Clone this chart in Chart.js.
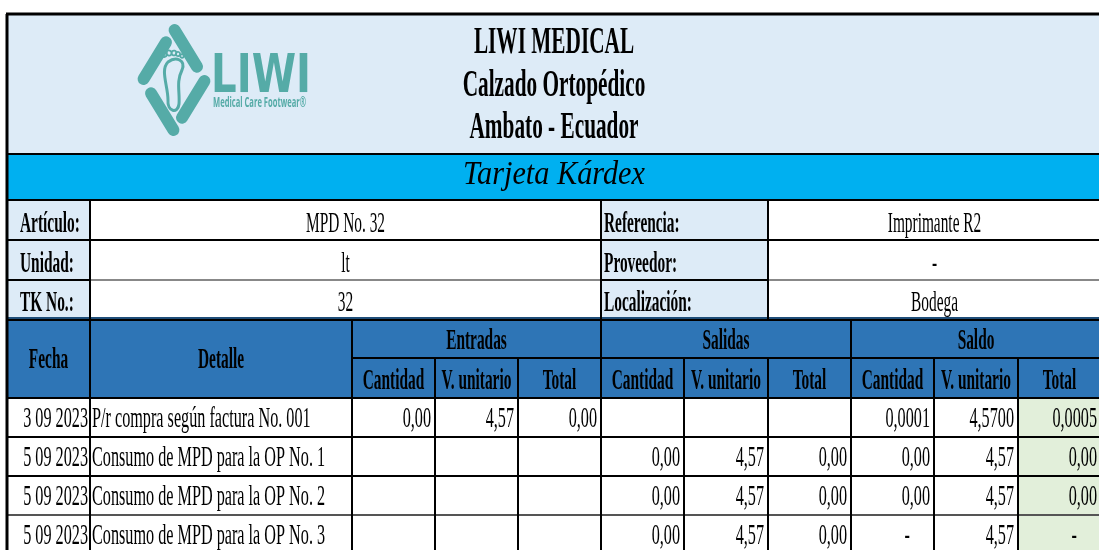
<!DOCTYPE html>
<html>
<head>
<meta charset="utf-8">
<script src="https://cdn.jsdelivr.net/npm/chart.js@4"></script>
<style>
  body { margin: 0; background: #fff; }
  #wrap { width: 1099px; height: 550px; position: relative; }
</style>
</head>
<body>
<div id="wrap"><canvas id="kardex"></canvas></div>
<script>
// datos de la tarjeta
var titulos = ['LIWI MEDICAL', 'Calzado Ortopédico', 'Ambato - Ecuador'];
var tarjeta = 'Tarjeta Kárdex';
var infoLabels = ['Artículo:', 'Unidad:', 'TK No.:'];
var infoValues = ['MPD No. 32', 'lt', '32'];
var infoLabels2 = ['Referencia:', 'Proveedor:', 'Localización:'];
var infoValues2 = ['Imprimante R2', '-', 'Bodega'];
var grupos = ['Entradas', 'Salidas', 'Saldo'];
var subCols = ['Cantidad', 'V. unitario', 'Total'];

var fechas = ['3 09 2023', '5 09 2023', '5 09 2023', '5 09 2023'];
var detalles = ['P/r compra según factura No. 001', 'Consumo de MPD para la OP No. 1',
                'Consumo de MPD para la OP No. 2', 'Consumo de MPD para la OP No. 3'];
var entCantidad = [0, null, null, null];
var entUnitario = [4.57, null, null, null];
var entTotal = [0, null, null, null];
var salCantidad = [null, 0, 0, 0];
var salUnitario = [null, 4.57, 4.57, 4.57];
var salTotal = [null, 0, 0, 0];
var saldoCantidad = [0.0001, 0, 0, '-'];
var saldoUnitario = [4.57, 4.57, 4.57, 4.57];
var saldoTotal = [0.0005, 0, 0, '-'];
var saldoDecimales = [4, 2, 2, 2];

// layout (pixel units of the x / y scales)
var colEdges = [7, 90, 352, 435, 518, 601, 684, 768, 851, 934, 1018, 1101];
var infoRows = [200, 240, 280, 319];
var headRows = [319, 358, 398];
var dataRows = [398, 437, 476, 515, 554];

var SERIF = '"Liberation Serif", "Times New Roman", serif';
var BODY = '30px ' + SERIF, BOLD = 'bold 29px ' + SERIF, INFO = '29px ' + SERIF;
var SX = 0.54; // condensed text, like the sheet
var LIGHT = '#DDEBF7', CYAN = '#00B0F0', BLUE = '#2E75B6', GREEN = '#E2EFDA', TEAL = '#55aba7';

function fmt(v, d) {
    if (v === null || v === undefined) return '';
    if (typeof v === 'string') return v;
    return v.toFixed(d).replace('.', ',');
}

var tablePlugin = {
    id: 'tabla',
    afterDraw: function (chart) {
        var ctx = chart.ctx;
        var sx = chart.scales.x, sy = chart.scales.y;
        var X = function (v) { return sx.getPixelForValue(v); };
        var Y = function (v) { return sy.getPixelForValue(v); };

        function rect(x0, y0, x1, y1, c) {
            ctx.fillStyle = c;
            ctx.fillRect(X(x0), Y(y0), X(x1) - X(x0), Y(y1) - Y(y0));
        }
        function hline(x0, x1, y, c, w) {
            ctx.strokeStyle = c; ctx.lineWidth = w;
            ctx.beginPath(); ctx.moveTo(X(x0), Y(y)); ctx.lineTo(X(x1), Y(y)); ctx.stroke();
        }
        function vline(x, y0, y1, c, w) {
            ctx.strokeStyle = c; ctx.lineWidth = w;
            ctx.beginPath(); ctx.moveTo(X(x), Y(y0)); ctx.lineTo(X(x), Y(y1)); ctx.stroke();
        }
        function text(s, x, y, align, font, color, scale) {
            ctx.save();
            ctx.font = font;
            ctx.fillStyle = color || '#000';
            ctx.textAlign = align;
            ctx.textBaseline = 'alphabetic';
            ctx.translate(X(x), Y(y));
            ctx.scale(scale || SX, 1);
            ctx.fillText(s, 0, 0);
            ctx.restore();
        }
        function widthOf(s, font) {
            ctx.save();
            ctx.font = font;
            var w = ctx.measureText(s).width;
            ctx.restore();
            return w;
        }
        function fitText(s, x, y, font, color, width, align) {
            text(s, x, y, align || 'left', font, color, width / widthOf(s, font));
        }

        var L = colEdges[0], R = colEdges[colEdges.length - 1];

        // fondos
        rect(L, 14, R, 154, LIGHT);
        rect(L, 154, R, 200, CYAN);
        rect(L, 200, colEdges[1], 319, LIGHT);
        rect(colEdges[1], 200, colEdges[5], 319, '#fff');
        rect(colEdges[5], 200, colEdges[7], 319, LIGHT);
        rect(colEdges[7], 200, R, 319, '#fff');
        rect(L, 319, R, 398, BLUE);
        rect(L, 398, R, 554, '#fff');
        rect(colEdges[10], 398, R, 554, GREEN);

        // logo
        ctx.save();
        ctx.strokeStyle = TEAL; ctx.fillStyle = TEAL;
        var cx = X(174), cy = Y(80);
        var pts = [[cx - 31, cy], [cx, cy - 51], [cx + 31, cy], [cx, cy + 51]];
        ctx.lineWidth = 12; ctx.lineCap = 'round'; ctx.lineJoin = 'round';
        for (var i = 0; i < 4; i++) {
            var a = pts[i], b = pts[(i + 1) % 4];
            ctx.beginPath();
            ctx.moveTo(a[0] + (b[0] - a[0]) * 0.02, a[1] + (b[1] - a[1]) * 0.02);
            ctx.lineTo(a[0] + (b[0] - a[0]) * 0.74, a[1] + (b[1] - a[1]) * 0.74);
            ctx.stroke();
        }
        // huella
        ctx.lineWidth = 3;
        ctx.beginPath();
        ctx.moveTo(cx - 6, cy - 18);
        ctx.bezierCurveTo(cx - 14, cy - 10, cx - 6, cy + 6, cx - 6, cy + 20);
        ctx.bezierCurveTo(cx - 7, cy + 32, cx + 4, cy + 34, cx + 5, cy + 24);
        ctx.bezierCurveTo(cx + 6, cy + 12, cx + 2, cy + 2, cx + 8, cy - 10);
        ctx.bezierCurveTo(cx + 12, cy - 20, cx + 2, cy - 24, cx - 6, cy - 18);
        ctx.stroke();
        ctx.lineWidth = 1.8;
        var toes = [[-10, -26, 3], [-5, -27, 2.6], [0, -27, 2.4], [4, -26, 2.1], [8, -24, 1.8]];
        toes.forEach(function (t) {
            ctx.beginPath();
            ctx.arc(cx + t[0], cy + t[1], t[2], 0.3, Math.PI * 2 - 0.3);
            ctx.stroke();
        });
        ctx.restore();
        fitText('LIWI', 211, 92, 'bold 54px "DejaVu Sans", Lato, sans-serif', TEAL, 100);
        fitText('Medical Care Footwear®', 213, 107, 'bold 14px "Open Sans", Lato, sans-serif', TEAL, 93);

        // titulos
        var mid = (L + R) / 2;
        var tb = [53, 96, 138];
        titulos.forEach(function (t, i) {
            text(t, mid, tb[i], 'center', 'bold 38px ' + SERIF, '#000', 0.56);
        });
        fitText(tarjeta, mid, 184, 'italic 34px ' + SERIF, '#000', 182, 'center');

        // info
        for (var r = 0; r < 3; r++) {
            var base = infoRows[r + 1] - 8;
            text(infoLabels[r], 20, base, 'left', BOLD, '#000', 0.53);
            text(infoValues[r], (colEdges[1] + colEdges[5]) / 2, base, 'center', INFO, '#000', 0.53);
            text(infoLabels2[r], 604, base, 'left', BOLD, '#000', 0.53);
            text(infoValues2[r], (colEdges[7] + R) / 2, base, 'center', INFO, '#000', 0.53);
        }

        // encabezado
        text('Fecha', (colEdges[0] + colEdges[1]) / 2, 368, 'center', BOLD, '#000', 0.53);
        text('Detalle', (colEdges[1] + colEdges[2]) / 2, 368, 'center', BOLD, '#000', 0.53);
        for (var g = 0; g < 3; g++) {
            var c0 = 2 + g * 3;
            text(grupos[g], (colEdges[c0] + colEdges[c0 + 3]) / 2, 349, 'center', BOLD, '#000', 0.53);
            for (var k = 0; k < 3; k++) {
                text(subCols[k], (colEdges[c0 + k] + colEdges[c0 + k + 1]) / 2, 389, 'center', BOLD, '#000', 0.53);
            }
        }

        // filas de datos
        var series = [entCantidad, entUnitario, entTotal, salCantidad, salUnitario, salTotal,
                      saldoCantidad, saldoUnitario, saldoTotal];
        for (var d = 0; d < fechas.length; d++) {
            var yb = dataRows[d + 1] - 10;
            text(fechas[d], colEdges[1] - 2, yb, 'right', BODY);
            text(detalles[d], colEdges[1] + 2, yb, 'left', BODY);
            series.forEach(function (s, j) {
                var dec = j >= 6 ? saldoDecimales[d] : 2;
                var v = s[d];
                var right = colEdges[j + 3];
                if (v === '-') {
                    text('-', right - 24, yb, 'right', BODY);
                } else {
                    text(fmt(v, dec), right - 4, yb, 'right', BODY);
                }
            });
        }

        // lineas
        var K = '#000';
        hline(L - 1, R, 14, K, 3);
        hline(L, R, 154, K, 2);
        hline(L, R, 200, K, 2);
        hline(L, R, 240, K, 2);
        hline(L, colEdges[1], 280, K, 2);
        hline(colEdges[1], colEdges[5], 280, '#888', 2);
        hline(colEdges[5], colEdges[7], 280, K, 2);
        hline(colEdges[7], R, 280, '#888', 2);
        hline(L, R, 318, '#1F4E79', 2);
        hline(L, R, 320, K, 2);
        hline(colEdges[2], R, 358, K, 2);
        dataRows.slice(0, 4).forEach(function (y, i) {
            hline(L, R, y, i === 3 ? '#555' : K, 2);
        });
        vline(L, 14, 554, K, 3);
        [colEdges[1], colEdges[5], colEdges[7]].forEach(function (x) { vline(x, 200, 319, K, 2); });
        colEdges.slice(1).forEach(function (x, i) {
            var idx = i + 1;
            var full = idx === 1 || idx === 2 || idx === 5 || idx === 8;
            vline(x, full ? 320 : 358, 554, K, 2);
        });
    }
};

var ctx = document.getElementById('kardex').getContext('2d');
var kardex = new Chart(ctx, {
    type: 'scatter',
    data: { datasets: [] },
    options: {
        responsive: true,
        maintainAspectRatio: false,
        animation: false,
        events: [],
        layout: { padding: 0 },
        plugins: { legend: { display: false }, tooltip: { enabled: false } },
        scales: {
            x: { type: 'linear', min: 0, max: 1099, display: false },
            y: { type: 'linear', min: 0, max: 550, reverse: true, display: false }
        }
    },
    plugins: [tablePlugin]
});
</script>
</body>
</html>
